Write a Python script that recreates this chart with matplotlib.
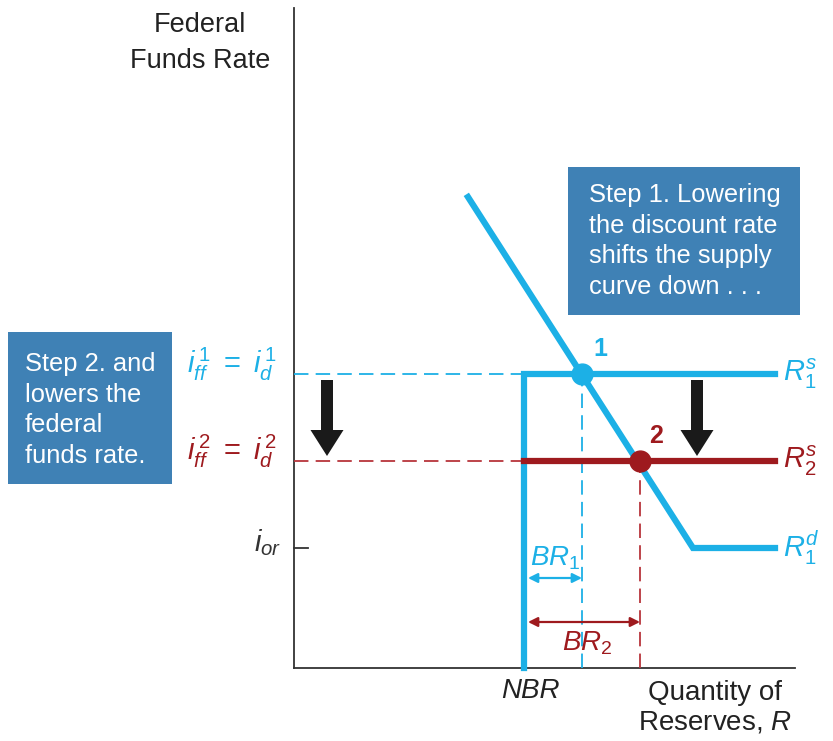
"""
Discount rate cut shifts reserve supply curve down
"""
import matplotlib.pyplot as plt
from matplotlib.patches import Rectangle

plt.rcParams['font.family'] = ['Liberation Sans', 'DejaVu Sans']
plt.rcParams['mathtext.fontset'] = 'custom'
plt.rcParams['mathtext.rm'] = 'Liberation Sans'
plt.rcParams['mathtext.it'] = 'Liberation Sans:italic'
plt.rcParams['mathtext.bf'] = 'Liberation Sans:bold'

# ---- data (reserves on x, rate on y) ----
nbr = 4.6
rate_levels = [5.88, 4.14]        # i_ff^1 = i_d^1, i_ff^2 = i_d^2
i_or = 2.4
demand_x = [3.48, 7.98, 9.62]
demand_y = [9.42, 2.4, 2.4]
supply_end = 9.62
eq_x = [5.76, 6.92]               # points 1 and 2
x_max, y_max = 10.02, 13.2

BLUE = '#1cb0e6'
RED = '#9e1a1e'
RED_LT = '#b8353b'
BOX = '#3f81b5'
AX = '#333333'

fig = plt.figure(figsize=(8.33, 7.41), dpi=100)
ax = fig.add_axes([0, 0, 1, 1])
ax.set_xlim(-294 / 50, 539 / 50)
ax.set_ylim(-73 / 50, 668 / 50)
ax.axis('off')

# axes
ax.plot([0, 0], [0, y_max], color=AX, lw=1.3)
ax.plot([0, x_max], [0, 0], color=AX, lw=1.3)
ax.plot([0, 0.28], [i_or, i_or], color=AX, lw=1.3)

# dashed guides
ax.plot([0, nbr], [rate_levels[0]] * 2, color=BLUE, lw=1.3, ls=(0, (8, 4)))
ax.plot([eq_x[0]] * 2, [0, rate_levels[0]], color=BLUE, lw=1.3, ls=(0, (8, 4)))
ax.plot([0, nbr], [rate_levels[1]] * 2, color=RED_LT, lw=1.3, ls=(0, (8, 4)))
ax.plot([eq_x[1]] * 2, [0, rate_levels[1]], color=RED_LT, lw=1.3, ls=(0, (8, 4)))

# supply curves
ax.plot([nbr, nbr, supply_end], [0, rate_levels[0], rate_levels[0]],
        color=BLUE, lw=4.5, solid_joinstyle='miter')
ax.plot([nbr, supply_end], [rate_levels[1]] * 2, color=RED, lw=4.5)
# demand curve
ax.plot(demand_x, demand_y, color=BLUE, lw=4.5, solid_joinstyle='miter')

# equilibrium points
ax.plot(eq_x[0], rate_levels[0], 'o', color=BLUE, ms=15)
ax.plot(eq_x[1], rate_levels[1], 'o', color=RED, ms=15)
ax.text(eq_x[0] + 0.36, rate_levels[0] + 0.5, '1', color=BLUE, fontsize=18,
        weight='bold', ha='center', va='center')
ax.text(eq_x[1] + 0.32, rate_levels[1] + 0.5, '2', color=RED, fontsize=18,
        weight='bold', ha='center', va='center')

# BR arrows
ax.annotate('', xy=(eq_x[0], 1.8), xytext=(nbr + 0.08, 1.8),
            arrowprops=dict(arrowstyle='<|-|>', color=BLUE, lw=1.6,
                            mutation_scale=14, shrinkA=0, shrinkB=0))
ax.annotate('', xy=(eq_x[1], 0.92), xytext=(nbr + 0.08, 0.92),
            arrowprops=dict(arrowstyle='<|-|>', color=RED, lw=1.6,
                            mutation_scale=14, shrinkA=0, shrinkB=0))
ax.text(5.22, 2.2, '$BR_1$', color=BLUE, fontsize=20, ha='center', va='center')
ax.text(5.86, 0.5, '$BR_2$', color=RED, fontsize=20, ha='center', va='center')

# black shift arrows
for ax_x in [0.66, 8.06]:
    ax.arrow(ax_x, 5.76, 0, -1.0, width=0.24, head_width=0.66,
             head_length=0.52, length_includes_head=False,
             color='#1a1a1a', lw=0)

# curve labels
ax.text(9.78, rate_levels[0], '$R_1^s$', color=BLUE, fontsize=21, va='center')
ax.text(9.78, rate_levels[1], '$R_2^s$', color=RED, fontsize=21, va='center')
ax.text(9.78, i_or, '$R_1^d$', color=BLUE, fontsize=21, va='center')

# y tick labels
ax.text(-0.34, rate_levels[0] + 0.2, '$i_{ff}^{\\,1}\\ =\\ i_d^{\\,1}$', color=BLUE,
        fontsize=21, ha='right', va='center')
ax.text(-0.34, rate_levels[1] + 0.2, '$i_{ff}^{\\,2}\\ =\\ i_d^{\\,2}$', color=RED,
        fontsize=21, ha='right', va='center')
ax.text(-0.26, i_or + 0.1, '$i_{or}$', color=AX, fontsize=21, ha='right',
        va='center')

# axis titles
ax.text(-1.88, 12.5, 'Federal\nFunds Rate', color='#222222', fontsize=19.5,
        ha='center', va='center', linespacing=1.45)
ax.text(nbr + 0.12, -0.46, 'NBR', color='#222222', fontsize=20, style='italic',
        ha='center', va='center')
ax.text(8.42, -0.8, 'Quantity of\nReserves, $R$', color='#222222', fontsize=20,
        ha='center', va='center', linespacing=1.15)

# step boxes
ax.add_patch(Rectangle((5.48, 7.06), 4.64, 2.96, color=BOX, lw=0))
ax.text(5.9, 8.54, 'Step 1. Lowering\nthe discount rate\nshifts the supply\ncurve down . . .',
        color='white', fontsize=18.4, ha='left', va='center', linespacing=1.36)
ax.add_patch(Rectangle((-5.72, 3.68), 3.28, 3.04, color=BOX, lw=0))
ax.text(-5.38, 5.16, 'Step 2. and\nlowers the\nfederal\nfunds rate.',
        color='white', fontsize=18.4, ha='left', va='center', linespacing=1.36)

plt.savefig('out.png', dpi=100)
